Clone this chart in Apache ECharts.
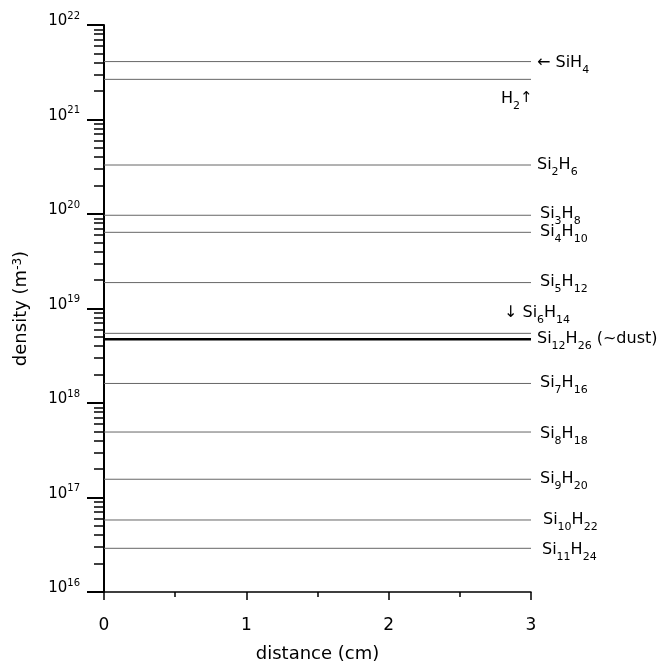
<!DOCTYPE html>
<html>
<head>
<meta charset="utf-8">
<script src="https://cdn.jsdelivr.net/npm/echarts@6/dist/echarts.min.js"></script>
<style>
  html, body { margin: 0; padding: 0; background: #fff; }
  #main { width: 664px; height: 669px; }
</style>
</head>
<body>
<div id="main"></div>
<script>
// distance (cm)
var distance = [0, 3];

// densities (m^-3)
var sih4    = [4.1e21, 4.1e21];
var h2      = [2.66e21, 2.66e21];
var si2h6   = [3.3e20, 3.3e20];
var si3h8   = [9.7e19, 9.7e19];
var si4h10  = [6.4e19, 6.4e19];
var si5h12  = [1.88e19, 1.88e19];
var si6h14  = [5.46e18, 5.46e18];
var si12h26 = [4.72e18, 4.72e18];
var si7h16  = [1.61e18, 1.61e18];
var si8h18  = [4.93e17, 4.93e17];
var si9h20  = [1.56e17, 1.56e17];
var si10h22 = [5.78e16, 5.78e16];
var si11h24 = [2.9e16, 2.9e16];

var FONT = "DejaVu Sans";

var labelRich = {
  n: { fontSize: 16, lineHeight: 19, verticalAlign: "top", fontFamily: FONT, color: "#000" },
  s: { fontSize: 11, lineHeight: 12, padding: [10, 0, 0, 0], verticalAlign: "top", fontFamily: FONT, color: "#000" },
  u: { fontSize: 15, lineHeight: 12, verticalAlign: "top", fontFamily: FONT, color: "#000" }
};

function makeSeries(name, values, text, opts) {
  opts = opts || {};
  var pts = distance.map(function (d, i) { return [d, values[i]]; });
  return {
    name: name,
    type: "line",
    data: pts,
    symbol: "none",
    silent: true,
    lineStyle: { color: opts.color || "#666", width: opts.width || 1 },
    endLabel: {
      show: true,
      formatter: text,
      distance: 6,
      offset: opts.offset || [0, 1],
      rich: labelRich
    }
  };
}

var chart = echarts.init(document.getElementById("main"));

var option = {
  animation: false,
  grid: { left: 104, right: 133, top: 25, bottom: 77 },
  xAxis: {
    type: "value",
    min: 0,
    max: 3,
    interval: 1,
    name: "distance (cm)",
    nameLocation: "middle",
    nameGap: 53,
    nameTextStyle: { fontSize: 18, color: "#000", fontFamily: FONT },
    axisLine: { lineStyle: { color: "#000", width: 1.5 } },
    axisTick: { length: 8, lineStyle: { color: "#000", width: 1.5 } },
    minorTick: { show: true, splitNumber: 2, length: 5, lineStyle: { color: "#000", width: 1.5 } },
    splitLine: { show: false },
    axisLabel: { fontSize: 17, color: "#000", fontFamily: FONT, margin: 25 }
  },
  yAxis: {
    type: "log",
    logBase: 10,
    min: 1e16,
    max: 1e22,
    splitNumber: 6,
    name: "density (m{sup|-3})",
    nameLocation: "middle",
    nameGap: 74,
    nameTextStyle: {
      fontSize: 18, color: "#000", fontFamily: FONT,
      rich: {
        sup: { fontSize: 12, verticalAlign: "top", lineHeight: 15, fontFamily: FONT, color: "#000" }
      }
    },
    axisLine: { lineStyle: { color: "#000", width: 2 } },
    axisTick: { length: 17, lineStyle: { color: "#000", width: 2 } },
    minorTick: { show: true, splitNumber: 9, length: 10, lineStyle: { color: "#000", width: 1.5 } },
    splitLine: { show: false },
    axisLabel: {
      margin: 24,
      padding: [0, 0, 10, 0],
      formatter: function (v) {
        var e = Math.round(Math.log(v) / Math.LN10);
        return "{b|10}{p|" + e + "}";
      },
      rich: {
        b: { fontSize: 15, lineHeight: 18, verticalAlign: "bottom", fontFamily: FONT, color: "#000" },
        p: { fontSize: 10, lineHeight: 13, verticalAlign: "top", fontFamily: FONT, color: "#000" }
      }
    }
  },
  series: [
    makeSeries("SiH4", sih4, "{n|\u2190 SiH}{s|4}", { offset: [0, 3] }),
    makeSeries("H2", h2, "{n|H}{s|2}{u|\u2191}", { offset: [-36, 21] }),
    makeSeries("Si2H6", si2h6, "{n|Si}{s|2}{n|H}{s|6}"),
    makeSeries("Si3H8", si3h8, "{n|Si}{s|3}{n|H}{s|8}", { offset: [3, 0] }),
    makeSeries("Si4H10", si4h10, "{n|Si}{s|4}{n|H}{s|10}", { offset: [3, 1] }),
    makeSeries("Si5H12", si5h12, "{n|Si}{s|5}{n|H}{s|12}", { offset: [3, 1] }),
    makeSeries("Si6H14", si6h14, "{n|\u2193 Si}{s|6}{n|H}{s|14}", { offset: [-33, -19] }),
    makeSeries("Si12H26", si12h26, "{n|Si}{s|12}{n|H}{s|26}{n| (~dust)}", { color: "#000", width: 2.5, offset: [0, 1] }),
    makeSeries("Si7H16", si7h16, "{n|Si}{s|7}{n|H}{s|16}", { offset: [3, 1] }),
    makeSeries("Si8H18", si8h18, "{n|Si}{s|8}{n|H}{s|18}", { offset: [3, 3] }),
    makeSeries("Si9H20", si9h20, "{n|Si}{s|9}{n|H}{s|20}", { offset: [3, 1] }),
    makeSeries("Si10H22", si10h22, "{n|Si}{s|10}{n|H}{s|22}", { offset: [6, 1] }),
    makeSeries("Si11H24", si11h24, "{n|Si}{s|11}{n|H}{s|24}", { offset: [5, 3] })
  ]
};

chart.setOption(option);
</script>
</body>
</html>
